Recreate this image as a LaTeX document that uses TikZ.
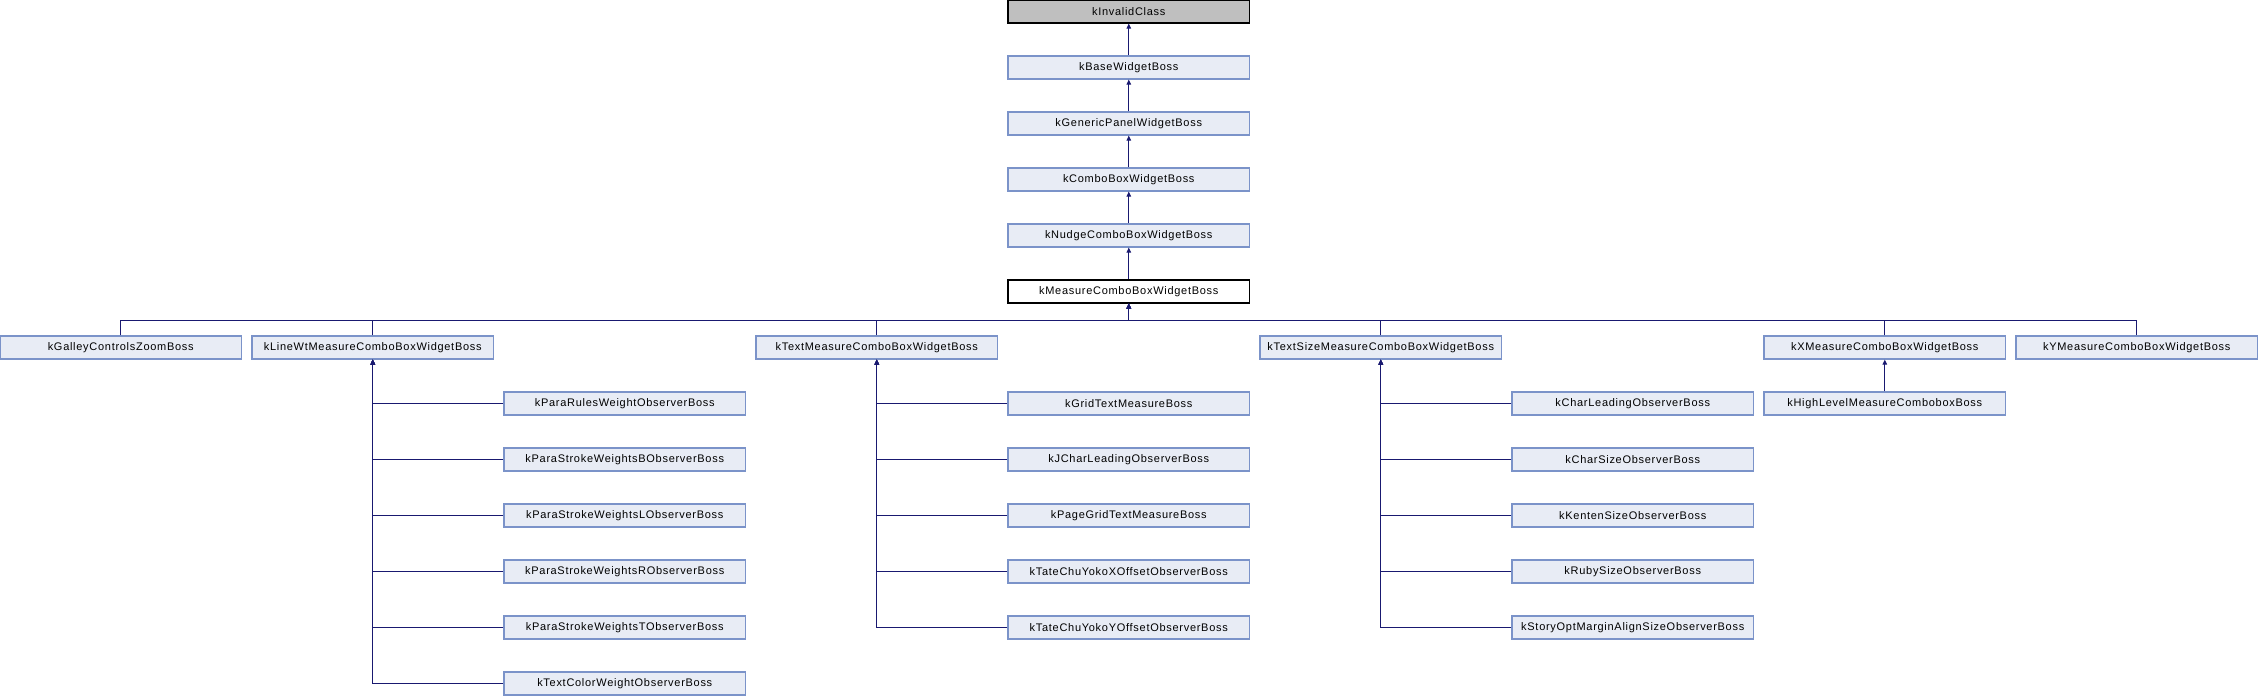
\documentclass[tikz,border=0pt]{standalone}
\usepackage{fontspec}
\setmainfont{Liberation Sans}[LetterSpace=6.5]
\usetikzlibrary{arrows.meta}
\definecolor{boxfill}{HTML}{E8ECF5}
\definecolor{boxline}{HTML}{7B93C9}
\definecolor{edgecol}{HTML}{191970}
\definecolor{rootfill}{HTML}{BFBFBF}
\tikzset{
  cls/.style={draw=boxline, fill=boxfill, line width=1.2pt, minimum width=241.5pt, minimum height=23pt, inner sep=0pt, font=\fontsize{11pt}{13pt}\selectfont},
  rootcls/.style={cls, draw=black, fill=rootfill},
  curcls/.style={cls, draw=black, fill=white},
  arr/.style={draw=edgecol, line width=1.1pt, -{Triangle[length=5pt,width=4.5pt]}},
}
\begin{document}
\begin{tikzpicture}[x=1pt,y=-1pt]
\useasboundingbox (0,0) rectangle (2258,696);
% top chain (column 4)
\node[rootcls] (inv) at (1128.75,11.5) {kInvalidClass};
\node[cls] (base) at (1128.75,67.5) {kBaseWidgetBoss};
\node[cls] (gen) at (1128.75,123.5) {kGenericPanelWidgetBoss};
\node[cls] (combo) at (1128.75,179.5) {kComboBoxWidgetBoss};
\node[cls] (nudge) at (1128.75,235.5) {kNudgeComboBoxWidgetBoss};
\node[curcls] (meas) at (1128.75,291.5) {kMeasureComboBoxWidgetBoss};
% row 6
\node[cls] (galley) at (120.75,347.5) {kGalleyControlsZoomBoss};
\node[cls] (linewt) at (372.75,347.5) {kLineWtMeasureComboBoxWidgetBoss};
\node[cls] (textm) at (876.75,347.5) {kTextMeasureComboBoxWidgetBoss};
\node[cls] (texts) at (1380.75,347.5) {kTextSizeMeasureComboBoxWidgetBoss};
\node[cls] (xm) at (1884.75,347.5) {kXMeasureComboBoxWidgetBoss};
\node[cls] (ym) at (2136.75,347.5) {kYMeasureComboBoxWidgetBoss};
% column 2
\node[cls] (p1) at (624.75,403.5) {kParaRulesWeightObserverBoss};
\node[cls] (p2) at (624.75,459.5) {kParaStrokeWeightsBObserverBoss};
\node[cls] (p3) at (624.75,515.5) {kParaStrokeWeightsLObserverBoss};
\node[cls] (p4) at (624.75,571.5) {kParaStrokeWeightsRObserverBoss};
\node[cls] (p5) at (624.75,627.5) {kParaStrokeWeightsTObserverBoss};
\node[cls] (p6) at (624.75,683.5) {kTextColorWeightObserverBoss};
% column 4
\node[cls] (g1) at (1128.75,403.5) {kGridTextMeasureBoss};
\node[cls] (g2) at (1128.75,459.5) {kJCharLeadingObserverBoss};
\node[cls] (g3) at (1128.75,515.5) {kPageGridTextMeasureBoss};
\node[cls] (g4) at (1128.75,571.5) {kTateChuYokoXOffsetObserverBoss};
\node[cls] (g5) at (1128.75,627.5) {kTateChuYokoYOffsetObserverBoss};
% column 6
\node[cls] (c1) at (1632.75,403.5) {kCharLeadingObserverBoss};
\node[cls] (c2) at (1632.75,459.5) {kCharSizeObserverBoss};
\node[cls] (c3) at (1632.75,515.5) {kKentenSizeObserverBoss};
\node[cls] (c4) at (1632.75,571.5) {kRubySizeObserverBoss};
\node[cls] (c5) at (1632.75,627.5) {kStoryOptMarginAlignSizeObserverBoss};
% column 7
\node[cls] (hl) at (1884.75,403.5) {kHighLevelMeasureComboboxBoss};
% chain edges
\draw[arr] (base) -- (inv);
\draw[arr] (gen) -- (base);
\draw[arr] (combo) -- (gen);
\draw[arr] (nudge) -- (combo);
\draw[arr] (meas) -- (nudge);
% bus
\coordinate (bus) at (1128.75,320.5);
\foreach \n in {galley,linewt,textm,texts,xm,ym}
  \draw[arr] (\n.north) -- (\n.north |- bus) -| (meas.south);
\foreach \n in {p1,p2,p3,p4,p5,p6}
  \draw[arr] (\n.west) -| (linewt.south);
\foreach \n in {g1,g2,g3,g4,g5}
  \draw[arr] (\n.west) -| (textm.south);
\foreach \n in {c1,c2,c3,c4,c5}
  \draw[arr] (\n.west) -| (texts.south);
\draw[arr] (hl) -- (xm);
\end{tikzpicture}
\end{document}
